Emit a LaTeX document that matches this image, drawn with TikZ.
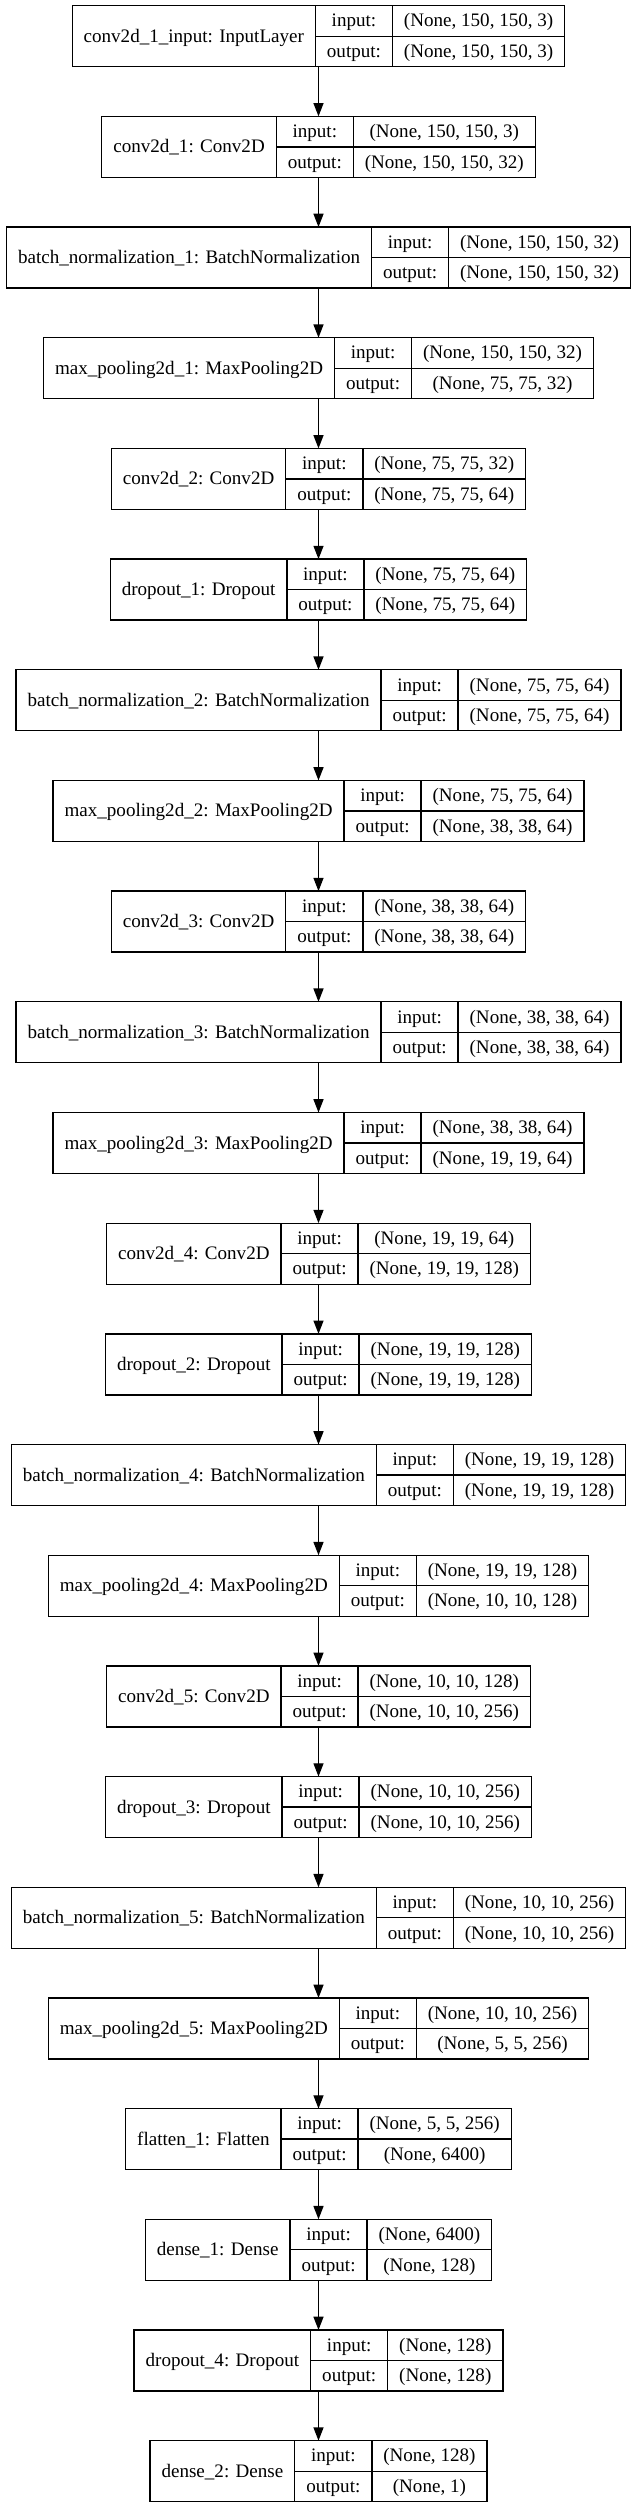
\documentclass[tikz,border=0pt]{standalone}
\usepackage{fontspec}
\setmainfont{Liberation Serif}
\usetikzlibrary{arrows.meta}

% keras plot: one record box per layer
\newcommand\kfont{\fontsize{14.3pt}{17pt}\selectfont}
\newlength\wname
\newlength\wio
\newlength\wshp
\newlength\wout
\newlength\wtmp
\newlength\wall
\newcommand\measure[2]{% width of a text, taken outside the picture's null font
  \pgfinterruptpicture\settowidth\wtmp{\normalfont\kfont #2}\global#1=\wtmp\endpgfinterruptpicture}
\newcommand\layer[5]{% id, row, label, input shape, output shape
  \measure\wname{#3}\addtolength\wname{17.25pt}%
  \measure\wio{output:}\addtolength\wio{17.25pt}%
  \measure\wshp{#4}\measure\wout{#5}%
  \ifdim\wout>\wshp \setlength\wshp{\wout}\fi
  \addtolength\wshp{17.25pt}%
  \setlength\wall{\wname}\addtolength\wall{\wio}\addtolength\wall{\wshp}%
  \node[layerbox, minimum width=\wall] (#1) at (318.5,{36.2+#2*110.68}) {};
  \node[cell, minimum width=\wname, minimum height=45.75pt, anchor=north west] (#1-name) at (#1.north west) {#3};
  \node[cell, minimum width=\wio, anchor=north west] (#1-in) at (#1-name.north east) {input:};
  \node[cell, minimum width=\wio, anchor=north west] (#1-out) at (#1-in.south west) {output:};
  \node[cell, minimum width=\wshp, anchor=north west] (#1-ins) at (#1-in.north east) {#4};
  \node[cell, minimum width=\wshp, anchor=north west] (#1-outs) at (#1-out.north east) {#5};
}

\tikzset{
  layerbox/.style={minimum height=45.75pt, inner sep=0pt, outer sep=0pt},
  cell/.style={draw, line width=1pt, inner sep=0pt, outer sep=0pt, font=\kfont,
    text height=9pt, text depth=0pt, minimum height=22.875pt},
  flow/.style={-{Triangle[length=10pt,width=7.5pt]}, line width=1pt}
}

\begin{document}
\begin{tikzpicture}[x=0.75pt, y=-0.75pt]
\useasboundingbox (0,0) rectangle (636,2508);
\layer{input}{0}{conv2d\_1\_input: InputLayer}{(None, 150, 150, 3)}{(None, 150, 150, 3)}
\layer{conv1}{1}{conv2d\_1: Conv2D}{(None, 150, 150, 3)}{(None, 150, 150, 32)}
\layer{bn1}{2}{batch\_normalization\_1: BatchNormalization}{(None, 150, 150, 32)}{(None, 150, 150, 32)}
\layer{pool1}{3}{max\_pooling2d\_1: MaxPooling2D}{(None, 150, 150, 32)}{(None, 75, 75, 32)}
\layer{conv2}{4}{conv2d\_2: Conv2D}{(None, 75, 75, 32)}{(None, 75, 75, 64)}
\layer{drop1}{5}{dropout\_1: Dropout}{(None, 75, 75, 64)}{(None, 75, 75, 64)}
\layer{bn2}{6}{batch\_normalization\_2: BatchNormalization}{(None, 75, 75, 64)}{(None, 75, 75, 64)}
\layer{pool2}{7}{max\_pooling2d\_2: MaxPooling2D}{(None, 75, 75, 64)}{(None, 38, 38, 64)}
\layer{conv3}{8}{conv2d\_3: Conv2D}{(None, 38, 38, 64)}{(None, 38, 38, 64)}
\layer{bn3}{9}{batch\_normalization\_3: BatchNormalization}{(None, 38, 38, 64)}{(None, 38, 38, 64)}
\layer{pool3}{10}{max\_pooling2d\_3: MaxPooling2D}{(None, 38, 38, 64)}{(None, 19, 19, 64)}
\layer{conv4}{11}{conv2d\_4: Conv2D}{(None, 19, 19, 64)}{(None, 19, 19, 128)}
\layer{drop2}{12}{dropout\_2: Dropout}{(None, 19, 19, 128)}{(None, 19, 19, 128)}
\layer{bn4}{13}{batch\_normalization\_4: BatchNormalization}{(None, 19, 19, 128)}{(None, 19, 19, 128)}
\layer{pool4}{14}{max\_pooling2d\_4: MaxPooling2D}{(None, 19, 19, 128)}{(None, 10, 10, 128)}
\layer{conv5}{15}{conv2d\_5: Conv2D}{(None, 10, 10, 128)}{(None, 10, 10, 256)}
\layer{drop3}{16}{dropout\_3: Dropout}{(None, 10, 10, 256)}{(None, 10, 10, 256)}
\layer{bn5}{17}{batch\_normalization\_5: BatchNormalization}{(None, 10, 10, 256)}{(None, 10, 10, 256)}
\layer{pool5}{18}{max\_pooling2d\_5: MaxPooling2D}{(None, 10, 10, 256)}{(None, 5, 5, 256)}
\layer{flat}{19}{flatten\_1: Flatten}{(None, 5, 5, 256)}{(None, 6400)}
\layer{dense1}{20}{dense\_1: Dense}{(None, 6400)}{(None, 128)}
\layer{drop4}{21}{dropout\_4: Dropout}{(None, 128)}{(None, 128)}
\layer{dense2}{22}{dense\_2: Dense}{(None, 128)}{(None, 1)}
% edges
\draw[flow] (input) -- (conv1);
\draw[flow] (conv1) -- (bn1);
\draw[flow] (bn1) -- (pool1);
\draw[flow] (pool1) -- (conv2);
\draw[flow] (conv2) -- (drop1);
\draw[flow] (drop1) -- (bn2);
\draw[flow] (bn2) -- (pool2);
\draw[flow] (pool2) -- (conv3);
\draw[flow] (conv3) -- (bn3);
\draw[flow] (bn3) -- (pool3);
\draw[flow] (pool3) -- (conv4);
\draw[flow] (conv4) -- (drop2);
\draw[flow] (drop2) -- (bn4);
\draw[flow] (bn4) -- (pool4);
\draw[flow] (pool4) -- (conv5);
\draw[flow] (conv5) -- (drop3);
\draw[flow] (drop3) -- (bn5);
\draw[flow] (bn5) -- (pool5);
\draw[flow] (pool5) -- (flat);
\draw[flow] (flat) -- (dense1);
\draw[flow] (dense1) -- (drop4);
\draw[flow] (drop4) -- (dense2);
\end{tikzpicture}
\end{document}
